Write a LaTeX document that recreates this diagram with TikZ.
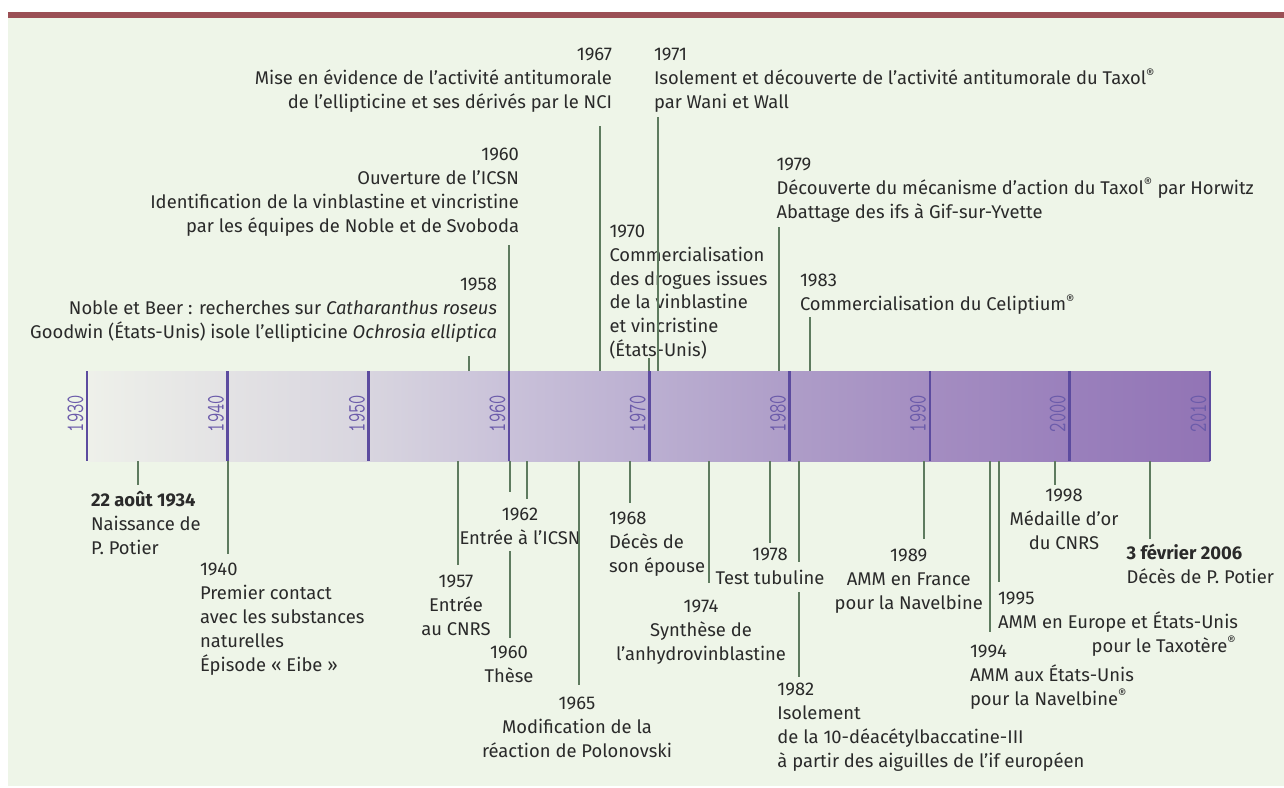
\documentclass[tikz,border=0pt]{standalone}
\usepackage{fontspec}
\setmainfont{Fira Sans}
\usepackage{graphicx}
\definecolor{bg}{HTML}{EEF5E8}
\definecolor{band}{HTML}{9B4F55}
\definecolor{txt}{HTML}{2A2A2A}
\definecolor{lncol}{HTML}{5E7B5F}
\definecolor{tickcol}{HTML}{5C4B9F}
\definecolor{yearcol}{HTML}{6B5BAA}
\definecolor{g0}{HTML}{EEF0EA}
\definecolor{g1}{HTML}{E3E2E4}
\definecolor{g2}{HTML}{D8D5DF}
\definecolor{g3}{HTML}{C9C1D9}
\definecolor{g4}{HTML}{BBAFD1}
\definecolor{g5}{HTML}{AE9DC8}
\definecolor{g6}{HTML}{A48DC1}
\definecolor{g7}{HTML}{9A80BC}
\definecolor{g8}{HTML}{9274B5}
\pgfdeclarehorizontalshading{barshade}{100bp}{color(0bp)=(g0); color(25bp)=(g0); color(31.25bp)=(g1); color(37.5bp)=(g2); color(43.75bp)=(g3); color(50bp)=(g4); color(56.25bp)=(g5); color(62.5bp)=(g6); color(68.75bp)=(g7); color(75bp)=(g8); color(100bp)=(g8)}
\newcommand\regm{\textsuperscript{®}}
\tikzset{
 lbl/.style={inner sep=0pt, outer sep=0pt, text=txt, font=\fontsize{18.4}{23.8}\selectfont},
 lblL/.style={lbl, align=left, anchor=base west},
 lblR/.style={lbl, align=right, anchor=base east},
 lblC/.style={lbl, align=center, anchor=base},
 conn/.style={draw=lncol, line width=2pt},
 tickline/.style={draw=tickcol, line width=2.3pt},
 yearlbl/.style={rotate=90, anchor=base, inner sep=0pt, text=yearcol, font=\fontsize{25}{25}\selectfont\ttfamily},
}
\begin{document}
\begin{tikzpicture}[x=1pt,y=-1pt]
\useasboundingbox (0,0) rectangle (1284,787);
\fill[white] (0,0) rectangle (1284,787);
\fill[bg] (8,18) rectangle (1284,786);
\fill[band] (8,12) rectangle (1284,18);

% timeline bar
\node (bar) [inner sep=0pt, outer sep=0pt, minimum width=1121pt, minimum height=90pt, shading=barshade, anchor=north west] at (89,371) {};
\foreach \yr/\xx in {1930/87.2,1940/227.6,1950/368.5,1960/509,1970/649.4,1980/789.6,1990/929.7,2000/1069.4,2010/1210}{
  \draw[tickline] (\xx,371) -- (\xx,461);
  \node[yearlbl, name=y\yr] at (\xx-4,413.5) {\scalebox{0.72}[1]{\yr}};
}

% ---------- upper events (node base = baseline of last line) ----------
\node[lblR] (e1958) at (497,338) {1958\\Noble et Beer : recherches sur \textit{Catharanthus roseus}\\Goodwin (États-Unis) isole l’ellipticine \textit{Ochrosia elliptica}};
\coordinate (a1958) at (469,356);
\draw[conn] (a1958) -- (a1958 |- bar.north);

\node[lblR] (e1960u) at (519,232) {1960\\Ouverture de l’ICSN\\Identification de la vinblastine et vincristine\\par les équipes de Noble et de Svoboda};
\coordinate (a1960u) at (509,245);
\draw[conn] (a1960u) -- (a1960u |- bar.north);

\node[lblR] (e1967) at (612,108.5) {1967\\Mise en évidence de l’activité antitumorale\\de l’ellipticine et ses dérivés par le NCI};
\coordinate (a1967) at (599.5,126);
\draw[conn] (a1967) -- (a1967 |- bar.north);

\node[lblL] (e1970) at (609.5,356.5) {1970\\Commercialisation\\des drogues issues\\de la vinblastine\\et vincristine\\(États-Unis)};
\coordinate (a1970) at (649.4,358);
\draw[conn] (a1970) -- (a1970 |- bar.north);

\node[lblL] (e1971) at (654,108.5) {1971\\Isolement et découverte de l’activité antitumorale du Taxol\regm\\par Wani et Wall};
\coordinate (a1971) at (658,117);
\draw[conn] (a1971) -- (a1971 |- bar.north);

\node[lblL] (e1979) at (776.5,218) {1979\\Découverte du mécanisme d’action du Taxol\regm{} par Horwitz\\Abattage des ifs à Gif-sur-Yvette};
\coordinate (a1979) at (779,227);
\draw[conn] (a1979) -- (a1979 |- bar.north);

\node[lblL] (e1983) at (800,310.5) {1983\\Commercialisation du Celiptium\regm};
\coordinate (a1983) at (810,317);
\draw[conn] (a1983) -- (a1983 |- bar.north);

% ---------- lower events ----------
\node[lblL] (e1934) at (91,554) {\textbf{22 août 1934}\\Naissance de\\P. Potier};
\coordinate (a1934) at (138.3,485);
\draw[conn] (a1934 |- bar.south) -- (a1934);

\node[lblL] (e1940) at (200,671) {1940\\Premier contact\\avec les substances\\naturelles\\Épisode « Eibe »};
\coordinate (a1940) at (227.7,554);
\draw[conn] (a1940 |- bar.south) -- (a1940);

\node[lblC] (e1957) at (456,635) {1957\\Entrée\\au CNRS};
\coordinate (a1957) at (458.3,565);
\draw[conn] (a1957 |- bar.south) -- (a1957);

\coordinate (a1960a) at (510,492);
\coordinate (a1960b) at (510,551);
\coordinate (a1960) at (510,638);
\draw[conn] (a1960a |- bar.south) -- (a1960a);
\draw[conn] (a1960b) -- (a1960);
\node[lblC] (e1960) at (509,682) {1960\\Thèse};

\node[lblC] (e1962) at (520,544) {1962\\Entrée à l’ICSN};
\coordinate (a1962) at (527.3,499);
\draw[conn] (a1962 |- bar.south) -- (a1962);

\node[lblC] (e1965) at (577,757) {1965\\Modification de la\\réaction de Polonovski};
\coordinate (a1965) at (579,685);
\draw[conn] (a1965 |- bar.south) -- (a1965);

\node[lblL] (e1968) at (609,572) {1968\\Décès de\\son épouse};
\coordinate (a1968) at (629.7,503);
\draw[conn] (a1968 |- bar.south) -- (a1968);

\node[lblC] (e1974) at (701,660) {1974\\Synthèse de\\l’anhydrovinblastine};
\coordinate (a1974) at (709,583);
\draw[conn] (a1974 |- bar.south) -- (a1974);

\node[lblC] (e1978) at (770,584) {1978\\Test tubuline};
\coordinate (a1978) at (770,543);
\draw[conn] (a1978 |- bar.south) -- (a1978);

\coordinate (a1982a) at (799.4,562);
\coordinate (a1982b) at (799.4,592);
\coordinate (a1982) at (799.4,677);
\draw[conn] (a1982a |- bar.south) -- (a1982a);
\draw[conn] (a1982b) -- (a1982);
\node[lblL] (e1982) at (777.4,767) {1982\\Isolement\\de la 10-déacétylbaccatine-III\\à partir des aiguilles de l’if européen};

\node[lblC] (e1989) at (908.7,609) {1989\\AMM en France\\pour la Navelbine};
\coordinate (a1989) at (923.8,539);
\draw[conn] (a1989 |- bar.south) -- (a1989);

\node[lblL] (e1994) at (970,705) {1994\\AMM aux États-Unis\\pour la Navelbine\regm};
\coordinate (a1994) at (990,632);
\draw[conn] (a1994 |- bar.south) -- (a1994);

\node[lblL] (e1995) at (998,628.5) {1995\\AMM en Europe et États-Unis};
\node[lbl, anchor=base east] (e1995b) at (1236,652) {pour le Taxotère\regm};
\coordinate (a1995) at (999,582);
\draw[conn] (a1995 |- bar.south) -- (a1995);

\node[lblC] (e1998) at (1064,549) {1998\\Médaille d’or\\du CNRS};
\coordinate (a1998) at (1055,485);
\draw[conn] (a1998 |- bar.south) -- (a1998);

\node[lblL] (e2006) at (1126.6,583.5) {\textbf{3 février 2006}\\Décès de P. Potier};
\coordinate (a2006) at (1150,539);
\draw[conn] (a2006 |- bar.south) -- (a2006);
\end{tikzpicture}
\end{document}
